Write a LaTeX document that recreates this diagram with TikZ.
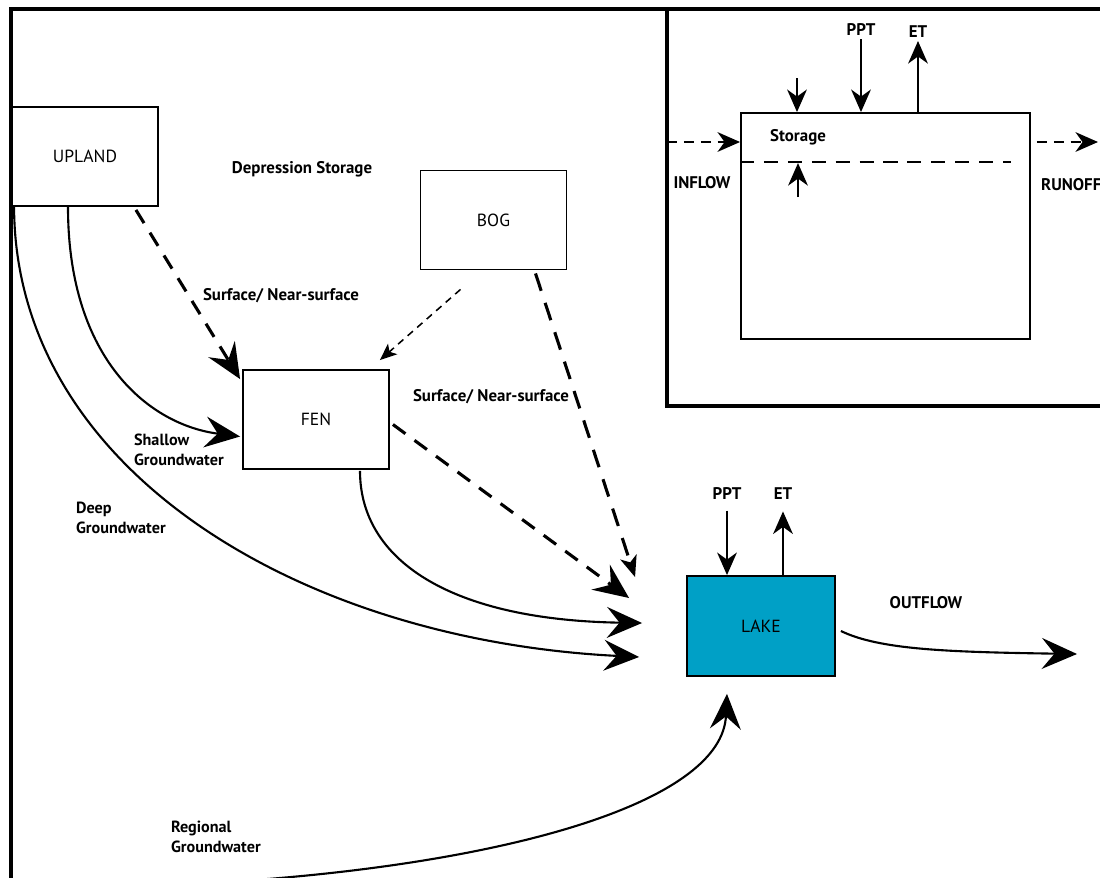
\documentclass[tikz,border=0pt]{standalone}
\usepackage{fontspec}
\setmainfont{PT Sans}
\usetikzlibrary{arrows.meta,calc}
\definecolor{LakeBlue}{RGB}{0,160,198}
\tikzset{
  every node/.style={
    font=\bfseries\fontsize{12}{14}\selectfont,
    inner sep=2pt
  },
  pool/.style={
    shape=rectangle,
    draw,
    line width=1.3pt,
    font=\fontsize{12.5}{14}\selectfont,
    minimum width=3.65cm,
    minimum height=2.475cm
  },
  twoline/.style={
    align=left,
    anchor=west,
    font=\bfseries\fontsize{11.5}{14.5}\selectfont
  },
  frame/.style={
    line width=2.2pt
  },
  bigtip/.style={
    -{Stealth[length=25pt,width=22pt,inset=9pt]}
  },
  smalltip/.style={
    -{Stealth[length=16pt,width=14pt,inset=5pt]}
  },
  groundflow/.style={
    line width=1.5pt,
    bigtip
  },
  surfflow/.style={
    line width=2.2pt,
    dash pattern=on 11pt off 8pt,
    bigtip
  },
  seep/.style={
    line width=1.1pt,
    dash pattern=on 5pt off 4pt,
    -{Stealth[length=12pt,width=10pt,inset=3pt]}
  },
  vertflow/.style={
    line width=1.6pt,
    smalltip
  },
  sideflow/.style={
    line width=1.5pt,
    dash pattern=on 7pt off 5pt,
    smalltip
  }
}

\begin{document}
\begin{tikzpicture}[x=0.025cm,y=-0.025cm]
\useasboundingbox (0,0) rectangle (1100,877);

% outer frame and inset frame
\draw[frame] (11,890) -- (11,9) -- (1110,9);
\draw[frame] (667,9) -- (667,406) -- (1110,406);

% pools
\node[pool] (upland) at (85,156.5) {UPLAND};
\node[pool] (bog) at (493.5,220) {BOG};
\node[pool] (fen) at (316,419.5) {FEN};
\node[pool, fill=LakeBlue, minimum width=3.7cm, minimum height=2.5cm] (lake) at (761,626) {LAKE};

% labels
\node (depr) at (302,169) {Depression Storage};
\node (surf1) at (281,296) {Surface/ Near-surface};
\node (surf2) at (491,397) {Surface/ Near-surface};
\node[twoline] (shallow) at (131,450) {Shallow\\Groundwater};
\node[twoline] (deep) at (73,518) {Deep\\Groundwater};
\node[twoline] (regional) at (168,837) {Regional\\Groundwater};
\node (outlab) at (926,603) {OUTFLOW};
\node (lppt) at (727,493) {PPT};
\node (let) at (783,494) {ET};

% flows into the lake
\draw[groundflow] ($(upland.south west)+(3,0)$) .. controls (15,470) and (300,640) .. ($(lake.west)+(-47,31)$);
\draw[groundflow] ($(upland.south)+(-17,0)$) .. controls (68,360) and (150,425) .. ($(fen.west)+(-2,17)$);
\draw[surfflow] ($(upland.south east)+(-23,3)$) -- ($(fen.north west)+(-2,10)$);
\draw[seep] ($(bog.south)+(-33,19)$) -- ($(fen.north east)+(-10,-9)$);
\draw[surfflow, dash pattern=on 13pt off 9pt, -{Stealth[length=15pt,width=12pt,inset=4pt]}] ($(bog.south)+(42,3)$) -- ($(lake.north west)+(-51,2)$);
\draw[surfflow] ($(fen.east)+(3,5)$) -- ($(lake.west)+(-57,-28)$);
\draw[groundflow] ($(fen.south)+(44,1)$) .. controls (360,560) and (450,620) .. ($(lake.west)+(-44,-3)$);
\coordinate (rgsrc) at (255,880);
\draw[groundflow] (rgsrc) .. controls (520,860) and (722,800) .. ($(lake.south)+(-34,17)$);
\coordinate (outlet) at (1077,654);
\draw[groundflow] ($(lake.east)+(5,5)$) .. controls (880,650) and (950,652) .. (outlet);
\draw[vertflow, shorten <=6pt] (lppt.south) -- (lppt.south |- lake.north);
\draw[vertflow, shorten >=6pt] (lake.north -| let) -- (let.south);

% inset: storage of one pool
\node[pool, minimum width=7.225cm, minimum height=5.65cm] (store) at (885.5,226) {};
\node (stlab) at (798,137) {Storage};
\node (ippt) at (861,30) {PPT};
\node (iet) at (918,32) {ET};
\node (inlab) at (702,183) {INFLOW};
\node[anchor=west] (runlab) at (1038,185) {RUNOFF};
\coordinate (drip) at (797,78);
\coordinate (rise) at (798,197);
\coordinate (inL) at (667,142);
\coordinate (outR) at (1098,142);
\draw[line width=1.5pt, dash pattern=on 10pt off 7pt] ($(store.north west)+(0,50)$) -- ($(store.north east)+(-20,50)$);
\draw[vertflow] (drip) -- (drip |- store.north);
\draw[vertflow] (rise) -- ($(rise |- store.north)+(0,51)$);
\draw[vertflow] (ippt.south) -- (ippt.south |- store.north);
\draw[vertflow] (store.north -| iet) -- (iet.south);
\draw[sideflow] (inL) -- (inL -| store.west);
\draw[sideflow] ($(store.east |- outR)+(6,0)$) -- (outR);

\end{tikzpicture}
\end{document}
